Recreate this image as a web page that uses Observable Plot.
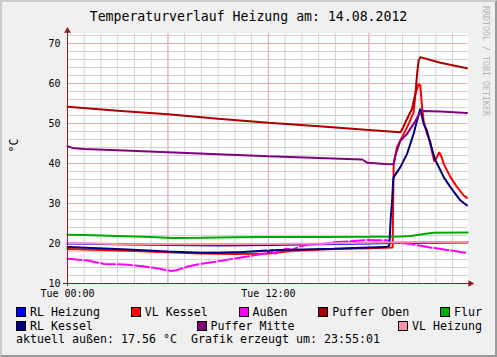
<!DOCTYPE html>
<html>
<head>
<meta charset="utf-8">
<script src="https://cdn.jsdelivr.net/npm/d3@7"></script>
<script src="https://cdn.jsdelivr.net/npm/@observablehq/plot@0.6"></script>
<style>
  html, body { margin: 0; padding: 0; background: #f0f0f0; }
  #wrap { position: relative; width: 497px; height: 357px; overflow: hidden; background: #f0f0f0;
          font-family: "DejaVu Sans Mono", monospace; color: #000; }
  #shade { position: absolute; left: 0; top: 0; width: 497px; height: 357px; box-sizing: border-box;
           border-top: 2px solid #cbcbcb; border-left: 2px solid #cbcbcb;
           border-right: 2px solid #999999; border-bottom: 2px solid #999999; pointer-events: none; }
  #title { position: absolute; left: 0; top: 9px; width: 497px; text-align: center;
           font-size: 13.2px; line-height: 16px; white-space: pre; }
  #chart { position: absolute; left: 0; top: 26px; }
  #credit { position: absolute; left: 481px; top: 6px; writing-mode: vertical-rl; font-size: 8.3px;
            line-height: 10px; color: #b4b4b4; white-space: pre; }
  .row { position: absolute; left: 16px; width: 466px; height: 12px; display: flex;
         align-items: center; font-size: 11.63px; line-height: 12px; white-space: pre; }
  .row.spread { justify-content: space-between; }
  .item { display: flex; align-items: center; }
  .sw { width: 10px; height: 10px; box-sizing: border-box; border: 1px solid #000; margin-right: 4px; margin-top: -1px; }
</style>
</head>
<body>
<div id="wrap">
  <div id="title"></div>
  <div id="chart"></div>
  <div id="credit"></div>
  <div class="row spread" id="row1" style="top:306px"></div>
  <div class="row spread" id="row2" style="top:320px"></div>
  <div class="row" id="row3" style="top:333px"></div>
  <div id="shade"></div>
</div>
<script>
// ---------------- data ----------------
const titleText = "Temperaturverlauf Heizung am: 14.08.2012";
const yLabel = "°C";
const creditText = "RRDTOOL / TOBI OETIKER";
const xTickHours = [0, 12];
const xTickLabels = ["Tue 00:00", "Tue 12:00"];
const yTickValues = [10, 20, 30, 40, 50, 60, 70];
const aktuellAussen = "17.56";
const erzeugtUm = "23:55:01";

const seriesNames = ["RL Heizung", "VL Kessel", "Außen", "Puffer Oben", "Flur", "RL Kessel", "Puffer Mitte", "VL Heizung"];
const legendRow1 = ["RL Heizung", "VL Kessel", "Außen", "Puffer Oben", "Flur"];
const legendRow2 = ["RL Kessel", "Puffer Mitte", "VL Heizung"];

// time in hours since Tue 00:00
const tRLHeizung = [0, 3, 6, 9, 12, 15, 18, 19.5, 21, 23.9];
const vRLHeizung = [20.0, 19.8, 19.6, 19.5, 19.6, 19.8, 20.0, 20.1, 20.2, 20.3];

const tVLHeizung = [0, 3, 6, 9, 12, 15, 18, 19.5, 21, 23.9];
const vVLHeizung = [20.1, 19.9, 19.8, 19.8, 19.9, 20.0, 20.2, 20.3, 20.4, 20.4];

const tFlur = [0, 1, 3, 5, 6.2, 8, 10, 12, 15, 18, 19.9, 20.5, 21, 21.5, 21.9, 23.9];
const vFlur = [22.2, 22.1, 21.9, 21.6, 21.4, 21.45, 21.55, 21.6, 21.65, 21.7, 21.75, 21.9, 22.2, 22.5, 22.7, 22.75];

const tAussen = [0, 1.2, 2.2, 3.6, 4.5, 5.5, 6.2, 6.5, 7.2, 7.9, 8.9, 9.9, 11, 11.9, 12.2, 12.4, 12.7, 13.1, 13.4, 13.9, 14.5, 15.2, 15.9, 16.8, 17.9, 18.5, 19.1, 19.3, 20.5, 21.5, 22.7, 23.86];
const vAussen = [16.2, 15.75, 14.9, 14.7, 14.3, 13.7, 13.1, 13.3, 14.25, 14.9, 15.5, 16.2, 16.9, 17.6, 17.9, 17.4, 18.3, 18.7, 18.4, 19.3, 19.8, 19.9, 20.3, 20.5, 20.9, 20.8, 20.8, 20.3, 19.9, 19.1, 18.4, 17.6];

const tPufferOben = [0, 3, 6, 9, 12, 15, 18, 19.88, 20.0, 20.18, 20.38, 20.58, 20.67, 20.78, 20.88, 20.97, 21.07, 22.27, 23.86];
const vPufferOben = [54.2, 53.2, 52.3, 51.2, 50.2, 49.3, 48.4, 47.8, 48.6, 50.3, 52.0, 53.7, 55.5, 57.4, 62.4, 65.7, 66.6, 65.2, 63.8];

const tPufferMitte = [0, 0.3, 1, 3, 6, 9, 12, 15, 17.6, 17.9, 19.0, 19.48, 19.58, 19.88, 20.28, 20.67, 21.07, 21.2, 22.27, 23.86];
const vPufferMitte = [44.3, 43.9, 43.6, 43.3, 42.8, 42.3, 41.8, 41.4, 41.0, 40.2, 39.9, 39.8, 42.0, 45.7, 47.4, 49.9, 52.8, 53.1, 53.0, 52.6];

const tRLKessel = [0, 1.5, 3.6, 6, 7.9, 9, 10.5, 11.9, 12.0, 12.1, 14, 15.9, 18, 19.0, 19.22, 19.3, 19.39, 19.45, 19.48, 19.88, 20.28, 20.67, 20.88, 21.07, 21.27, 21.47, 21.67, 21.97, 22.27, 22.47, 22.87, 23.46, 23.86];
const vRLKessel = [19.1, 18.9, 18.5, 18.0, 17.7, 17.7, 17.9, 18.25, 17.9, 18.3, 18.5, 18.7, 19.0, 19.1, 19.4, 26, 30.8, 35.7, 36.6, 39.1, 42.4, 47.4, 50.8, 53.7, 49.9, 48.2, 44.9, 40.8, 38.3, 36.6, 34.1, 30.8, 29.5];

const tVLKessel = [0, 2, 4, 6, 8, 10, 12, 13.5, 16, 18, 19.42, 19.48, 19.68, 19.98, 20.38, 20.67, 20.78, 20.97, 21.07, 21.18, 21.27, 21.47, 21.67, 21.77, 21.91, 22.05, 22.2, 22.35, 22.47, 22.87, 23.27, 23.66, 23.86];
const vVLKessel = [18.6, 18.4, 18.1, 17.8, 17.5, 17.4, 17.5, 18.2, 18.6, 18.8, 19.0, 39.9, 44.1, 46.6, 49.9, 52.8, 57.4, 59.9, 59.5, 54.0, 50.7, 47.4, 45.5, 43.0, 40.5, 41.5, 42.8, 41.5, 39.9, 36.6, 34.1, 32.0, 31.4];

// ---------------- styles ----------------
const palette = {
  "RL Heizung": "#0000ff", "VL Kessel": "#ff0000", "Außen": "#ff00ff", "Puffer Oben": "#aa0000",
  "Flur": "#00aa00", "RL Kessel": "#000080", "Puffer Mitte": "#800080", "VL Heizung": "#ff8fab"
};
const seriesData = {
  "RL Heizung": [tRLHeizung, vRLHeizung], "VL Kessel": [tVLKessel, vVLKessel], "Außen": [tAussen, vAussen],
  "Puffer Oben": [tPufferOben, vPufferOben], "Flur": [tFlur, vFlur], "RL Kessel": [tRLKessel, vRLKessel],
  "Puffer Mitte": [tPufferMitte, vPufferMitte], "VL Heizung": [tVLHeizung, vVLHeizung]
};
const axisColor = "#8e1c1c";
const xDomain = [0, 23.92];
const yDomain = [10, 72.5];
const minorHours = d3.range(1, 24);
const majorHours = d3.range(0, 24, 6);
const minorTemps = d3.range(12, 73, 2);
const majorTemps = yTickValues;

const lineMarks = seriesNames.map(name => {
  const [ts, vs] = seriesData[name];
  const rows = ts.map((t, i) => ({t, v: vs[i]}));
  return Plot.line(rows, {x: "t", y: "v", stroke: palette[name], strokeWidth: 2,
    strokeLinejoin: "miter", strokeDasharray: name === "Außen" ? "14,3" : null});
});

const chart = Plot.plot({
  width: 497, height: 274,
  marginLeft: 67, marginRight: 29.5, marginTop: 7, marginBottom: 17,
  style: {background: "transparent", fontFamily: "DejaVu Sans Mono", fontSize: "10px", overflow: "visible", color: "#000"},
  x: {domain: xDomain, axis: null, label: null},
  y: {domain: yDomain, axis: null, label: null},
  marks: [
    Plot.frame({fill: "white", stroke: "none"}),
    Plot.ruleX(minorHours, {stroke: "#d2d2d2"}),
    Plot.ruleY(minorTemps, {stroke: "#d2d2d2"}),
    Plot.ruleX(majorHours, {stroke: "#f0a8a8"}),
    Plot.ruleY(majorTemps, {stroke: "#f0a8a8"}),
    ...lineMarks,
    Plot.ruleX([xDomain[0]], {y1: yDomain[0] - 0.8, y2: yDomain[1] + 0.6, stroke: axisColor}),
    Plot.ruleY([yDomain[0]], {x1: xDomain[0] - 0.24, x2: xDomain[1] + 0.1, stroke: axisColor}),
    Plot.dot([0], {x: xDomain[0], y: yDomain[1] + 0.65, symbol: "triangle", r: 2.5, fill: axisColor, stroke: null}),
    Plot.dot([0], {x: xDomain[1] + 0.14, y: yDomain[0], symbol: "triangle", r: 2.5, fill: axisColor, stroke: null, rotate: 90}),
    Plot.axisY({ticks: yTickValues, tickSize: 0, tickPadding: 7, fontSize: 10, fill: "#000", label: null}),
    Plot.axisX({ticks: xTickHours, tickSize: 0, tickPadding: 6, fontSize: 10, fill: "#000", label: null,
      tickFormat: d => xTickLabels[xTickHours.indexOf(d)]}),
    Plot.text([yLabel], {frameAnchor: "left", dx: -53, dy: -6, rotate: -90, fontSize: 11.6, fill: "#000"})
  ]
});
document.getElementById("chart").appendChild(chart);
document.getElementById("title").textContent = titleText;
document.getElementById("credit").textContent = creditText;

function fillRow(id, names) {
  const row = document.getElementById(id);
  names.forEach(n => {
    const it = document.createElement("div"); it.className = "item";
    const sw = document.createElement("div"); sw.className = "sw"; sw.style.background = palette[n];
    const tx = document.createElement("span"); tx.textContent = n;
    it.appendChild(sw); it.appendChild(tx); row.appendChild(it);
  });
}
fillRow("row1", legendRow1);
fillRow("row2", legendRow2);
document.getElementById("row3").textContent = "aktuell außen: " + aktuellAussen + " °C  Grafik erzeugt um: " + erzeugtUm;
</script>
</body>
</html>
